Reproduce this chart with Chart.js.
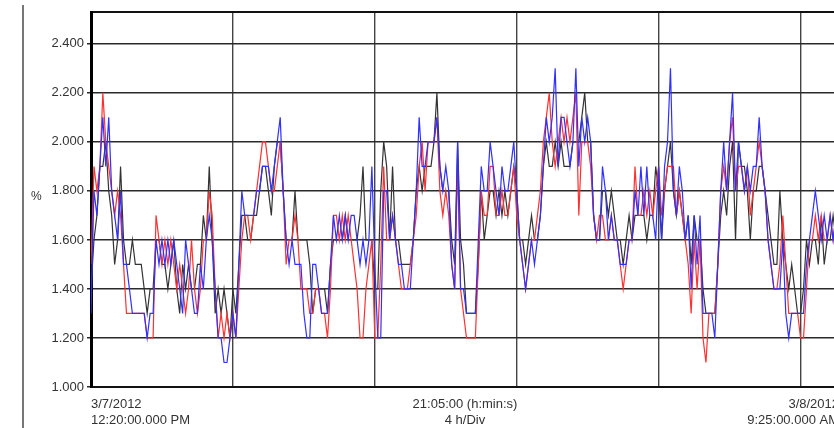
<!DOCTYPE html>
<html>
<head>
<meta charset="utf-8">
<script src="https://cdn.jsdelivr.net/npm/chart.js@4.4.1/dist/chart.umd.min.js"></script>
<style>
  html, body { margin: 0; padding: 0; background: #fff; overflow: hidden; width: 834px; height: 428px; }
  #wrap { position: absolute; left: 0; top: 0; width: 839px; height: 428px; }
  #edge { position: absolute; left: 22px; top: 5px; width: 0; height: 423px; border-left: 2px solid #777; }
  #unit { position: absolute; left: 31px; top: 189px; font: 12px "Liberation Sans", Arial, sans-serif; color: #333; }
</style>
</head>
<body>
<div id="wrap"><canvas id="myChart" width="839" height="428"></canvas></div>
<div id="edge"></div>
<div id="unit">%</div>
<script>
// one sample every 5 minutes, starting 3/7/2012 12:20 PM
const stepMin = 5;
const yTicks = [1.0, 1.2, 1.4, 1.6, 1.8, 2.0, 2.2, 2.4];
const xGrid = [0, 240, 480, 720, 960, 1200];
const xLabelPos = [0, 632.5, 1265];
const xLabels = [
  ['3/7/2012', '12:20:00.000 PM'],
  ['21:05:00 (h:min:s)', '4 h/Div'],
  ['3/8/2012', '9:25:00.000 AM']
];

const red = [
  1.5,1.9,1.8,1.9,2.2, 2.0,1.9,1.8,1.7,1.8, 1.7,1.5,1.3,1.3,1.3, 1.3,1.3,1.3,1.3,1.2,
  1.2,1.2,1.7,1.6,1.5, 1.6,1.5,1.6,1.5,1.4, 1.5,1.4,1.3,1.4,1.6, 1.4,1.3,1.4,1.6,1.6,
  1.8,1.7,1.4,1.2,1.3, 1.2,1.3,1.2,1.3,1.2, 1.4,1.6,1.7,1.7,1.6, 1.7,1.8,1.9,2.0,2.0,
  1.9,1.8,1.8,1.9,2.0, 1.8,1.5,1.6,1.6,1.7, 1.6,1.4,1.4,1.4,1.3, 1.3,1.4,1.4,1.3,1.3,
  1.2,1.4,1.7,1.7,1.6, 1.7,1.6,1.7,1.6,1.5, 1.4,1.2,1.2,1.4,1.5, 1.6,1.2,1.2,1.5,1.9,
  1.6,1.6,1.7,1.6,1.5, 1.4,1.4,1.4,1.5,1.6, 1.7,1.9,2.0,1.8,2.0, 2.0,2.0,2.1,1.8,1.7,
  1.8,1.7,1.5,1.4,1.9, 1.4,1.3,1.2,1.2,1.2, 1.2,1.5,1.8,1.7,1.7, 1.9,1.9,1.7,1.7,1.8,
  1.7,1.7,1.8,1.9,1.7, 1.6,1.5,1.4,1.5,1.6, 1.6,1.7,1.8,2.0,2.1, 2.2,2.0,1.9,2.0,2.1,
  2.0,2.1,2.0,2.1,2.2, 1.7,2.0,2.0,2.0,1.9, 1.7,1.6,1.7,1.7,1.6, 1.6,1.7,1.6,1.6,1.5,
  1.4,1.5,1.6,1.6,1.9, 1.7,1.7,1.8,1.7,1.8, 1.7,1.8,1.9,1.7,1.8, 1.9,1.9,1.9,1.7,1.8,
  1.7,1.6,1.5,1.3,1.6, 1.4,1.6,1.2,1.1,1.3, 1.3,1.3,1.5,1.8,1.9, 1.8,2.0,2.1,1.8,1.9,
  1.9,1.8,1.9,1.7,1.8, 1.9,2.0,1.9,1.8,1.6, 1.5,1.4,1.4,1.5,1.7, 1.5,1.3,1.3,1.3,1.3,
  1.2,1.2,1.4,1.6,1.6, 1.7,1.6,1.7,1.6,1.6, 1.7,1.6,1.7,1.6
];
const blue = [
  1.3,1.8,1.7,1.9,2.1, 1.9,2.1,1.8,1.7,1.6, 1.8,1.5,1.5,1.4,1.3, 1.3,1.3,1.3,1.3,1.2,
  1.3,1.3,1.6,1.5,1.6, 1.5,1.6,1.5,1.6,1.5, 1.4,1.3,1.6,1.5,1.4, 1.3,1.3,1.5,1.4,1.6,
  1.7,1.6,1.4,1.2,1.2, 1.1,1.1,1.2,1.3,1.2, 1.5,1.8,1.7,1.7,1.7, 1.7,1.8,1.8,1.9,1.9,
  1.9,1.8,1.9,2.0,2.1, 1.8,1.6,1.5,1.6,1.5, 1.5,1.5,1.3,1.2,1.2, 1.5,1.5,1.4,1.3,1.3,
  1.3,1.5,1.7,1.6,1.7, 1.6,1.7,1.6,1.7,1.7, 1.6,1.5,1.6,1.5,1.6, 1.9,1.5,1.2,1.2,1.8,
  1.8,1.6,1.7,1.6,1.5, 1.5,1.4,1.4,1.4,1.6, 1.8,2.1,1.9,1.9,2.0, 2.0,2.0,2.1,1.9,1.8,
  1.9,1.8,1.5,1.4,2.0, 1.4,1.4,1.3,1.3,1.3, 1.3,1.6,1.9,1.8,1.8, 2.0,1.9,1.8,1.7,1.9,
  1.8,1.8,1.9,2.0,1.8, 1.6,1.5,1.4,1.5,1.6, 1.5,1.6,1.7,1.9,2.1, 2.0,2.1,2.3,1.9,2.1,
  2.1,2.0,1.9,2.0,2.3, 1.9,2.1,2.0,2.1,2.0, 1.7,1.6,1.6,1.9,1.8, 1.6,1.7,1.6,1.6,1.5,
  1.5,1.5,1.6,1.6,1.8, 1.7,1.9,1.7,1.9,1.7, 1.7,1.6,1.9,1.6,1.9, 2.0,2.3,1.8,1.7,1.9,
  1.8,1.6,1.7,1.4,1.7, 1.5,1.7,1.3,1.3,1.3, 1.3,1.2,1.5,1.8,2.0, 1.8,2.0,2.2,1.8,2.0,
  1.9,1.8,1.9,1.8,1.9, 1.9,2.1,1.9,1.8,1.6, 1.5,1.4,1.4,1.4,1.6, 1.3,1.2,1.3,1.3,1.3,
  1.3,1.3,1.5,1.6,1.7, 1.8,1.7,1.6,1.7,1.6, 1.7,1.6,1.7,1.6
];
const black = [
  1.4,1.6,1.7,1.9,1.9, 2.0,1.8,1.7,1.5,1.6, 1.9,1.6,1.5,1.5,1.6, 1.5,1.5,1.5,1.4,1.3,
  1.4,1.4,1.6,1.6,1.5, 1.5,1.4,1.5,1.6,1.4, 1.3,1.5,1.4,1.5,1.4, 1.4,1.5,1.5,1.7,1.6,
  1.9,1.6,1.3,1.4,1.3, 1.4,1.3,1.2,1.4,1.3, 1.5,1.7,1.7,1.6,1.6, 1.7,1.7,1.8,1.9,1.9,
  1.8,1.7,1.9,2.0,2.0, 1.8,1.6,1.6,1.6,1.8, 1.6,1.6,1.6,1.6,1.5, 1.3,1.4,1.4,1.4,1.4,
  1.3,1.5,1.6,1.6,1.6, 1.6,1.7,1.6,1.6,1.6, 1.6,1.7,1.9,1.6,1.6, 1.6,1.4,1.4,1.8,2.0,
  1.9,1.6,1.9,1.6,1.6, 1.5,1.5,1.5,1.5,1.6, 1.8,1.9,1.8,1.9,1.9, 1.9,2.0,2.2,1.9,1.8,
  1.8,1.8,1.6,1.5,2.0, 1.6,1.5,1.3,1.3,1.3, 1.3,1.5,1.8,1.6,1.7, 1.8,1.8,1.7,1.8,1.7,
  1.8,1.7,1.8,1.9,1.8, 1.6,1.6,1.5,1.6,1.7, 1.6,1.6,1.7,1.9,2.0, 1.9,1.9,2.0,1.9,2.0,
  1.9,1.9,1.9,2.0,2.0, 2.0,2.1,2.2,2.0,2.0, 1.7,1.6,1.6,1.8,1.8, 1.7,1.8,1.7,1.6,1.6,
  1.5,1.6,1.7,1.6,1.7, 1.7,1.7,1.7,1.6,1.7, 1.7,1.9,1.8,1.6,1.8, 1.9,2.0,1.8,1.7,1.8,
  1.7,1.6,1.7,1.5,1.7, 1.6,1.6,1.4,1.3,1.3, 1.3,1.3,1.5,1.7,1.8, 1.7,1.9,2.0,1.6,2.0,
  1.9,1.9,1.8,1.6,1.8, 1.8,1.9,1.9,1.8,1.7, 1.6,1.5,1.5,1.8,1.6, 1.5,1.4,1.5,1.4,1.3,
  1.3,1.4,1.6,1.5,1.6, 1.6,1.5,1.7,1.5,1.6, 1.6,1.7,1.6,1.6
];

const times = red.map((v, i) => i * stepMin);
const toXY = arr => arr.map((v, i) => ({ x: times[i], y: v }));

const font = { family: '"Liberation Sans", Arial, sans-serif', size: 13 };

// no side padding on the x axes, so the plot keeps its full width
function noPad(axis) {
  axis.paddingLeft = 0;
  axis.paddingRight = 0;
}

chartIt();

function chartIt() {
  const ctx = document.getElementById('myChart').getContext('2d');
  new Chart(ctx, {
    type: 'line',
    data: {
      datasets: [
        { label: 'blue', data: toXY(blue), borderColor: '#3030ff', borderWidth: 1.2, xAxisID: 'x' },
        { label: 'red', data: toXY(red), borderColor: '#ff3030', borderWidth: 1.2, xAxisID: 'x' },
        { label: 'black', data: toXY(black), borderColor: '#333333', borderWidth: 1.2, xAxisID: 'x' }
      ]
    },
    options: {
      responsive: false,
      animation: false,
      layout: { padding: { top: 11, right: 0, left: 0, bottom: 0 } },
      elements: { point: { radius: 0 }, line: { tension: 0 } },
      plugins: { legend: { display: false }, tooltip: { enabled: false } },
      scales: {
        // grid lines and top border
        x: {
          type: 'linear', position: 'top', min: 0, max: 1265,
          afterBuildTicks: axis => { axis.ticks = xGrid.map(v => ({ value: v })); },
          afterFit: axis => { axis.height = 1; noPad(axis); },
          ticks: { display: false },
          grid: { color: '#444', lineWidth: 1.4, drawTicks: false },
          border: { color: '#111', width: 2 }
        },
        // bottom date / time labels
        xl: {
          type: 'linear', position: 'bottom', min: 0, max: 1265,
          afterBuildTicks: axis => { axis.ticks = xLabelPos.map(v => ({ value: v })); },
          afterFit: axis => { axis.height = 41; noPad(axis); },
          ticks: {
            autoSkip: false, maxRotation: 0, align: 'inner', padding: 2,
            color: '#333', font: { ...font, lineHeight: 1.2 },
            callback: (v, i) => xLabels[i]
          },
          grid: { display: false },
          border: { color: '#111', width: 2 }
        },
        y: {
          min: 1.0, max: 2.53,
          afterBuildTicks: axis => { axis.ticks = yTicks.map(v => ({ value: v })); },
          afterFit: axis => { axis.width = 91; },
          ticks: { color: '#333', font: font, padding: 3, callback: v => v.toFixed(3) },
          grid: { color: '#2a2a2a', lineWidth: 1.5, tickLength: 4, tickColor: '#2a2a2a' },
          border: { color: '#000', width: 3 }
        }
      }
    }
  });
}
</script>
</body>
</html>
